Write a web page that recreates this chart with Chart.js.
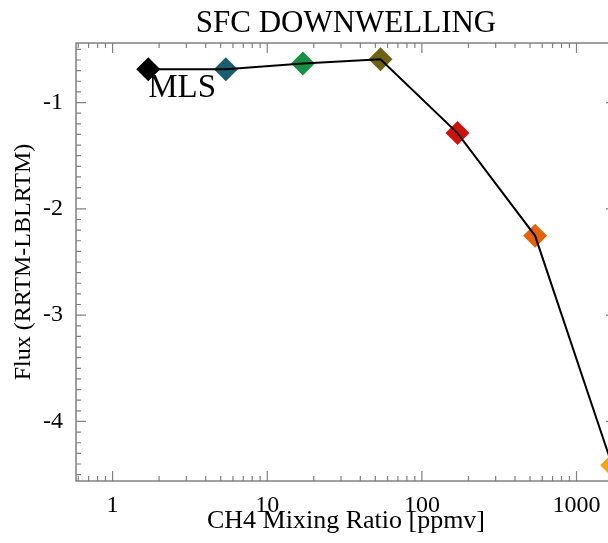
<!DOCTYPE html>
<html>
<head>
<meta charset="utf-8">
<script src="https://cdn.jsdelivr.net/npm/chart.js@4/dist/chart.umd.min.js"></script>
<style>
  html, body { margin: 0; padding: 0; background: #ffffff; overflow: hidden; }
  #wrap { width: 608px; height: 543px; overflow: hidden; }
</style>
</head>
<body>
<div id="wrap"><canvas id="chart" width="630" height="543"></canvas></div>
<script>
// ── Data ──────────────────────────────────
const ch4Ppmv   = [1.7, 5.4, 17, 54, 170, 540, 1700];
const fluxDiff  = [-0.686, -0.688, -0.632, -0.592, -1.287, -2.254, -4.412];
const colors    = ['#000000', '#1b5e6d', '#188f44', '#6d6214', '#d0120f', '#e2640f', '#f0a51c'];
const xTicks    = [1, 10, 100, 1000];
const yTicks    = [-4, -3, -2, -1];
const xRange    = [0.58, 1800];
const yRange    = [-4.56, -0.44];
const titleText = 'SFC DOWNWELLING';
const pointTag  = 'MLS';

const SERIF = '"Liberation Serif", "DejaVu Serif", serif';
const AXIS  = '#808080';

const points = ch4Ppmv.map((x, i) => ({ x, y: fluxDiff[i] }));

// ── Frame, inward ticks, title, label ─────
const framePlugin = {
  id: 'frame',
  afterDraw(chart) {
    const { ctx, chartArea: a, scales: { x, y } } = chart;
    ctx.save();
    ctx.strokeStyle = AXIS;
    ctx.lineWidth = 1.5;
    ctx.strokeRect(a.left, a.top, a.right - a.left, a.bottom - a.top);

    ctx.lineWidth = 1.2;
    const tickX = (v, len) => {
      const px = x.getPixelForValue(v);
      if (px < a.left - 0.5 || px > a.right + 0.5) return;
      ctx.beginPath();
      ctx.moveTo(px, a.bottom); ctx.lineTo(px, a.bottom - len);
      ctx.moveTo(px, a.top);    ctx.lineTo(px, a.top + len);
      ctx.stroke();
    };
    const tickY = (v, len) => {
      const py = y.getPixelForValue(v);
      if (py < a.top - 0.5 || py > a.bottom + 0.5) return;
      ctx.beginPath();
      ctx.moveTo(a.left, py);  ctx.lineTo(a.left + len, py);
      ctx.moveTo(a.right, py); ctx.lineTo(a.right - len, py);
      ctx.stroke();
    };

    for (let d = -1; d <= 3; d++) {
      for (let m = 1; m <= 9; m++) tickX(m * Math.pow(10, d), m === 1 ? 10 : 5);
    }
    for (let k = Math.ceil(yRange[0] * 10); k <= Math.floor(yRange[1] * 10); k++) {
      tickY(k / 10, k % 10 === 0 ? 10 : 5);
    }

    ctx.fillStyle = '#000000';
    ctx.font = '31px ' + SERIF;
    ctx.textAlign = 'center';
    ctx.textBaseline = 'alphabetic';
    ctx.fillText(titleText, (a.left + a.right) / 2, 32);

    ctx.font = '33px ' + SERIF;
    ctx.textAlign = 'left';
    ctx.fillText(pointTag, x.getPixelForValue(ch4Ppmv[0]), y.getPixelForValue(fluxDiff[0]) + 28);
    ctx.restore();
  }
};

new Chart(document.getElementById('chart'), {
  type: 'scatter',
  data: {
    datasets: [
      {
        data: points,
        showLine: true,
        borderColor: '#000000',
        borderWidth: 2,
        pointRadius: 0,
        clip: false,
        order: 0
      },
      {
        data: points,
        showLine: false,
        pointStyle: 'rectRot',
        pointRadius: 12,
        pointBorderWidth: 0,
        pointBackgroundColor: colors,
        pointBorderColor: colors,
        clip: false,
        order: 1
      }
    ]
  },
  options: {
    responsive: false,
    animation: false,
    events: [],
    layout: { padding: { top: 43, right: 14, left: 0, bottom: 0 } },
    plugins: {
      legend: { display: false },
      title: { display: false },
      tooltip: { enabled: false }
    },
    scales: {
      x: {
        type: 'logarithmic',
        min: xRange[0],
        max: xRange[1],
        afterFit: s => { s.height = 62; },
        afterBuildTicks: s => { s.ticks = xTicks.map(v => ({ value: v })); },
        grid: { display: false },
        border: { display: false },
        ticks: {
          autoSkip: false,
          maxRotation: 0,
          padding: 2,
          color: '#000000',
          font: { family: SERIF, size: 24 },
          callback: v => String(v)
        },
        title: {
          display: true,
          text: 'CH4 Mixing Ratio [ppmv]',
          color: '#000000',
          font: { family: SERIF, size: 26 },
          padding: { top: 0, bottom: 6 }
        }
      },
      y: {
        min: yRange[0],
        max: yRange[1],
        afterFit: s => { s.width = 76; },
        afterBuildTicks: s => { s.ticks = yTicks.map(v => ({ value: v })); },
        grid: { display: false },
        border: { display: false },
        ticks: {
          padding: 5,
          color: '#000000',
          font: { family: SERIF, size: 24 },
          callback: v => String(v)
        },
        title: {
          display: true,
          text: 'Flux (RRTM-LBLRTM)',
          color: '#000000',
          font: { family: SERIF, size: 24 },
          padding: { top: 9, bottom: 0 }
        }
      }
    }
  },
  plugins: [framePlugin]
});
</script>
</body>
</html>
